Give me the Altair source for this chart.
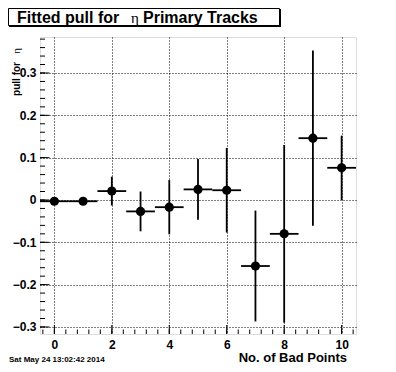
import altair as alt
import pandas as pd

# Data
bad_points = [0, 1, 2, 3, 4, 5, 6, 7, 8, 9, 10]
pull = [-0.003, -0.003, 0.021, -0.027, -0.017, 0.025, 0.023, -0.156, -0.080, 0.146, 0.076]
pull_err = [0.003, 0.003, 0.034, 0.047, 0.064, 0.072, 0.100, 0.131, 0.210, 0.207, 0.076]
x_half_width = [0.5] * 11

y_major = [-0.3, -0.2, -0.1, 0.0, 0.1, 0.2, 0.3]
x_major = [0, 2, 4, 6, 8, 10]

X_DOMAIN = [-0.5, 10.5]
Y_DOMAIN = [-0.3166, 0.385]
W, H = 316, 297

df = pd.DataFrame({
    "x": bad_points,
    "y": pull,
    "xlo": [a - b for a, b in zip(bad_points, x_half_width)],
    "xhi": [a + b for a, b in zip(bad_points, x_half_width)],
    "ylo": [a - b for a, b in zip(pull, pull_err)],
    "yhi": [a + b for a, b in zip(pull, pull_err)],
})

y_minor = [round(-0.30 + 0.02 * i, 2) for i in range(35)]
x_minor = [round(-0.4 + 0.4 * i, 1) for i in range(28)]
ymaj_df = pd.DataFrame({"v": y_major})
ymin_df = pd.DataFrame({"v": y_minor})
xmaj_df = pd.DataFrame({"v": x_major})
xmin_df = pd.DataFrame({"v": x_minor})

FONT = "Liberation Sans"
SERIF = "Liberation Serif"

xscale = alt.Scale(domain=X_DOMAIN, nice=False, zero=False)
yscale = alt.Scale(domain=Y_DOMAIN, nice=False, zero=False)

x_axis = alt.Axis(values=x_major, grid=True, gridDash=[1, 2], gridColor="black", gridOpacity=1,
                  ticks=False, domain=False, labelFont=FONT, labelFontSize=12, labelFontWeight="bold",
                  labelColor="black", labelPadding=5, format="d", title=None)
y_axis = alt.Axis(values=y_major, grid=True, gridDash=[1, 2], gridColor="black", gridOpacity=1,
                  ticks=False, domain=False, labelFont=FONT, labelFontSize=12, labelFontWeight="bold",
                  labelColor="black", labelPadding=4,
                  labelExpr="abs(datum.value) < 1e-9 ? '0' : format(datum.value, '.1f')",
                  title=None)

base = alt.Chart(df)

vbars = base.mark_rule(color="black", strokeWidth=1.8).encode(
    x=alt.X("x:Q", scale=xscale, axis=x_axis),
    y=alt.Y("ylo:Q", scale=yscale, axis=y_axis),
    y2="yhi:Q",
)
hbars = base.mark_rule(color="black", strokeWidth=1.8).encode(
    x=alt.X("xlo:Q"), x2="xhi:Q", y=alt.Y("y:Q"),
)
points = base.mark_circle(color="black", opacity=1, size=85).encode(
    x="x:Q", y="y:Q",
)

def ytick_layer(d, length):
    return alt.Chart(d).mark_rule(color="black", strokeWidth=1).encode(
        y=alt.Y("v:Q"), x=alt.value(0), x2=alt.value(length))

def xtick_layer(d, length):
    return alt.Chart(d).mark_rule(color="black", strokeWidth=1).encode(
        x=alt.X("v:Q"), y=alt.value(H), y2=alt.value(H - length))

def label(text, x, y, size, weight="bold", font=FONT, align="left", angle=0, baseline="middle"):
    return alt.Chart(pd.DataFrame({"t": [text]})).mark_text(
        font=font, fontSize=size, fontWeight=weight, align=align, baseline=baseline,
        angle=angle, color="black"
    ).encode(x=alt.value(x), y=alt.value(y), text="t:N")

one = pd.DataFrame({"a": [0]})
# title box (with ROOT-like shadow on right/bottom)
title_shadow = alt.Chart(one).mark_rect(fill="black").encode(
    x=alt.value(-31), x2=alt.value(241), y=alt.value(-28), y2=alt.value(-10))
title_box = alt.Chart(one).mark_rect(fill="white", stroke="black", strokeWidth=1).encode(
    x=alt.value(-31.5), x2=alt.value(239.5), y=alt.value(-28.5), y2=alt.value(-11.5))

title_parts = [
    label("Fitted pull for", -23, -19.5, 16),
    label("\u03b7", 91, -19.5, 15, weight="normal", font=SERIF),
    label("Primary Tracks", 103, -19.5, 16),
]

ytitle = [
    label("pull for", -20, 25, 10, align="right", angle=270, baseline="alphabetic"),
    label("\u03b7", -20, 11, 11, weight="normal", font=SERIF, align="right", angle=270, baseline="alphabetic"),
]

xtitle = label("No. of Bad Points", 307, 321, 13, align="right")
date_text = label("Sat May 24 13:02:42 2014", -31, 323, 8)

chart = alt.layer(
    vbars, hbars, points,
    ytick_layer(ymin_df, 5), ytick_layer(ymaj_df, 9.5),
    xtick_layer(xmin_df, 4.5), xtick_layer(xmaj_df, 9),
    title_shadow, title_box, *title_parts, *ytitle, xtitle, date_text
).properties(
    width=W, height=H,
    autosize="none",
    padding={"left": 32, "top": 29, "right": 32, "bottom": 32},
).configure_view(stroke="black", strokeWidth=1).configure(background="white")

chart.save("out.html", embed_options={"renderer": "svg", "actions": False})
